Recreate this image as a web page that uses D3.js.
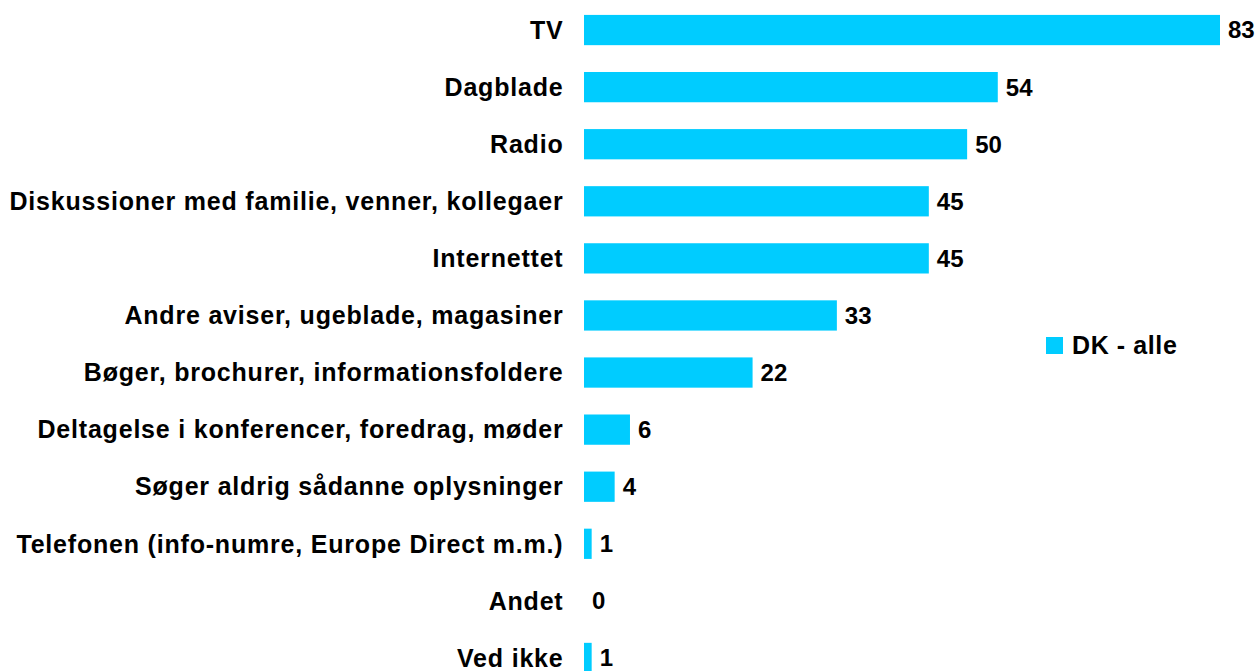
<!DOCTYPE html>
<html>
<head>
<meta charset="utf-8">
<script src="https://cdn.jsdelivr.net/npm/d3@7"></script>
<style>
body{margin:0;background:#fff;}
text{font-family:"Liberation Sans",Arial,sans-serif;font-weight:bold;fill:#000;}
</style>
</head>
<body>
<script>
var categories=["TV","Dagblade","Radio","Diskussioner med familie, venner, kollegaer","Internettet",
	"Andre aviser, ugeblade, magasiner","Bøger, brochurer, informationsfoldere",
	"Deltagelse i konferencer, foredrag, møder","Søger aldrig sådanne oplysninger",
	"Telefonen (info-numre, Europe Direct m.m.)","Andet","Ved ikke"];
var values=[83,54,50,45,45,33,22,6,4,1,0,1];
var seriesName="DK - alle";

var w=1260;
var h=671;
var color="#00ccff";
var fontSize=25;
var valueSize=24;

var svg=d3.select("body").append("svg")
	.attr("width",w).attr("height",h);

var x=d3.scaleLinear().domain([0,83]).range([584,1220]);
var y=d3.scaleBand().domain(categories).range([1.5,686.5])
	.paddingInner(0.47).paddingOuter(0.235);

// bars
svg.selectAll("rect.bar")
	.data(values)
	.enter()
	.append("rect")
	.attr("class","bar")
	.attr("x",x(0))
	.attr("y",function(d,i){ return y(categories[i]);})
	.attr("width",function(d){ return x(d)-x(0);})
	.attr("height",y.bandwidth())
	.attr("fill",color);

// category labels
svg.selectAll("text.cat")
	.data(categories)
	.enter()
	.append("text")
	.attr("class","cat")
	.attr("x",x(0)-20.5)
	.attr("y",function(d){ return y(d)+y.bandwidth()/2;})
	.attr("dy","0.35em")
	.attr("text-anchor","end")
	.style("font-size",fontSize+"px")
	.style("letter-spacing","0.8px")
	.text(function(d){ return d;});

// value labels
svg.selectAll("text.val")
	.data(values)
	.enter()
	.append("text")
	.attr("class","val")
	.attr("x",function(d){ return x(d)+8;})
	.attr("y",function(d,i){ return y(categories[i])+y.bandwidth()/2;})
	.attr("dy","0.35em")
	.style("font-size",valueSize+"px")
	.text(function(d){ return d;});

// legend
var lg=svg.append("g").attr("transform","translate(1046,337)");
lg.append("rect").attr("width",17).attr("height",17).attr("fill",color);
lg.append("text").attr("x",26).attr("y",8.5).attr("dy","0.35em")
	.style("font-size",fontSize+"px").style("letter-spacing","0.6px").text(seriesName);
</script>
</body>
</html>
